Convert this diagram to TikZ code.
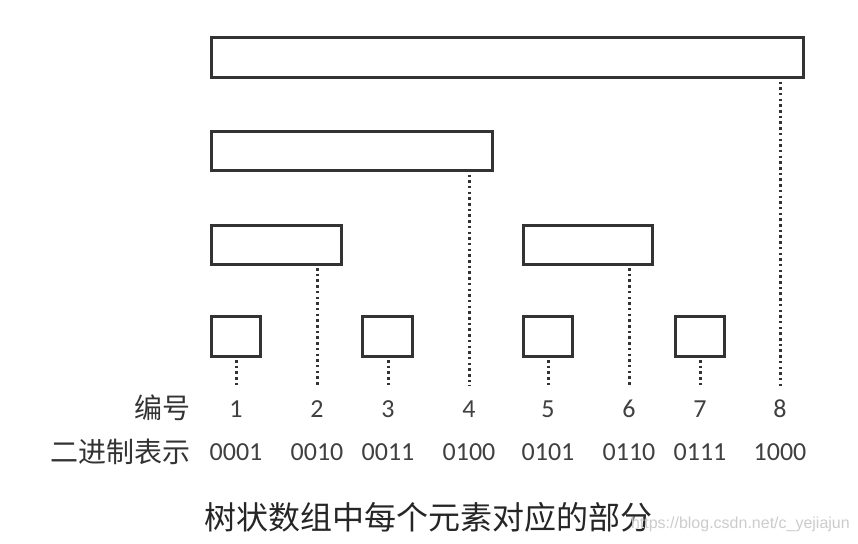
\documentclass[tikz,border=0pt]{standalone}
\usepackage{fontspec}
\setmainfont{Carlito}
\newfontfamily\cjk{Noto Sans CJK SC}
\newfontfamily\wmfont{Liberation Sans}
\begin{document}
\begin{tikzpicture}[x=1pt,y=-1pt,
  box/.style={draw=black!80, line width=3pt, rectangle, inner sep=0pt},
  dotline/.style={draw=black!80, line width=3pt, dash pattern=on 2.5pt off 3.2pt},
  numlab/.style={font=\fontsize{26}{26}\selectfont, text=black!75, inner sep=0pt, text height=18pt, text depth=0pt},
  binlab/.style={font=\fontsize{26}{26}\selectfont, text=black!75, inner sep=0pt},
  cnlab/.style={font=\cjk\fontsize{28}{28}\selectfont, text=black!80, inner sep=0pt, anchor=east},
  caplab/.style={font=\cjk\fontsize{32}{32}\selectfont, text=black!85, inner sep=0pt},
  wmlab/.style={font=\wmfont\fontsize{16}{16}\selectfont, text=black!20, inner sep=0pt, anchor=base east}]
\useasboundingbox[fill=white] (0,0) rectangle (858,543);
% boxes
\node[box, minimum width=592pt, minimum height=40pt] (b8) at (507.5,57.5) {};
\node[box, minimum width=281pt, minimum height=39pt] (b4) at (352,151) {};
\node[box, minimum width=130pt, minimum height=39pt] (b2) at (276.5,244.5) {};
\node[box, minimum width=129pt, minimum height=39pt] (b6) at (588,244.5) {};
\node[box, minimum width=49pt, minimum height=40pt] (b1) at (236,336) {};
\node[box, minimum width=50pt, minimum height=40pt] (b3) at (387.5,336) {};
\node[box, minimum width=49pt, minimum height=40pt] (b5) at (548,336) {};
\node[box, minimum width=49pt, minimum height=40pt] (b7) at (700,336) {};
% number labels
\foreach \i/\x in {1/236,2/317,3/388,4/469,5/548,6/629,7/700,8/780}{
  \node[numlab, anchor=base] (n\i) at (\x,417) {\i};
}
% binary labels
\node[binlab] (c1) at (236,452) {0001};
\node[binlab] (c2) at (317,452) {0010};
\node[binlab] (c3) at (388,452) {0011};
\node[binlab] (c4) at (469,452) {0100};
\node[binlab] (c5) at (548,452) {0101};
\node[binlab] (c6) at (629,452) {0110};
\node[binlab] (c7) at (700,452) {0111};
\node[binlab] (c8) at (780,452) {1000};
% row headers
\node[cnlab] (h1) at (191,408) {编号};
\node[cnlab] (h2) at (191,452) {二进制表示};
% dotted connectors
\draw[dotline, shorten <=2.5pt, shorten >=13pt] (b1.south -| n1.north) -- (n1.north);
\draw[dotline, shorten <=2.5pt, shorten >=13pt] (b2.south -| n2.north) -- (n2.north);
\draw[dotline, shorten <=2.5pt, shorten >=13pt] (b3.south -| n3.north) -- (n3.north);
\draw[dotline, shorten <=2.5pt, shorten >=13pt] (b4.south -| n4.north) -- (n4.north);
\draw[dotline, shorten <=2.5pt, shorten >=13pt] (b5.south -| n5.north) -- (n5.north);
\draw[dotline, shorten <=2.5pt, shorten >=13pt] (b6.south -| n6.north) -- (n6.north);
\draw[dotline, shorten <=2.5pt, shorten >=13pt] (b7.south -| n7.north) -- (n7.north);
\draw[dotline, shorten <=2.5pt, shorten >=13pt] (b8.south -| n8.north) -- (n8.north);
% caption
\node[caplab] (cap) at (428,517) {树状数组中每个元素对应的部分};
\node[wmlab] (wm) at (850,528) {https://blog.csdn.net/c\_yejiajun};
\end{tikzpicture}
\end{document}
